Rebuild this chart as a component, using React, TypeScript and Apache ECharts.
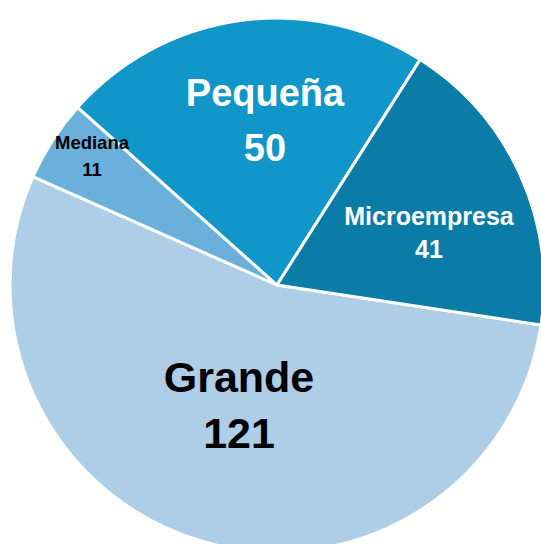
import React, { useEffect, useRef } from "react";
import * as echarts from "echarts";

const categories = ["Grande", "Mediana", "Pequeña", "Microempresa"];
const values = [121, 11, 50, 41];
const colors = ["#aecde6", "#6bb0db", "#1096c8", "#0b7ba8"];
const labelColors = ["#000000", "#000000", "#ffffff", "#ffffff"];
const labelSizes = [43, 18.5, 38, 25];
const labelLineHeights = [56, 27.5, 55, 33];
// label block centres (px)
const labelCentres: [number, number][] = [
  [239, 405],
  [92, 156],
  [265, 120],
  [429, 232],
];

export default function App() {
  const ref = useRef<HTMLDivElement>(null);
  useEffect(() => {
    if (!ref.current) return;
    const chart = echarts.init(ref.current, null, { renderer: "svg" });
    chart.setOption({
      animation: false,
      backgroundColor: "#ffffff",
      series: [
        {
          type: "pie",
          center: [277, 285],
          radius: [0, 267],
          startAngle: 351.4,
          clockwise: true,
          avoidLabelOverlap: false,
          itemStyle: { borderColor: "#ffffff", borderWidth: 3 },
          label: {
            show: true,
            position: "inside",
            formatter: "{b}\n{c}",
            fontFamily: "Liberation Sans, Arial, sans-serif",
            fontWeight: "bold",
          },
          labelLine: { show: false },
          labelLayout: (p: any) => ({
            x: labelCentres[p.dataIndex][0],
            y: labelCentres[p.dataIndex][1],
            align: "center",
            verticalAlign: "middle",
          }),
          emphasis: { disabled: true },
          data: categories.map((name, i) => ({
            name,
            value: values[i],
            itemStyle: { color: colors[i] },
            label: {
              color: labelColors[i],
              fontSize: labelSizes[i],
              lineHeight: labelLineHeights[i],
            },
          })),
        },
      ],
    });
    return () => chart.dispose();
  }, []);
  return (
    <div
      ref={ref}
      style={{ position: "fixed", left: 0, top: 0, width: 541, height: 544 }}
    />
  );
}
